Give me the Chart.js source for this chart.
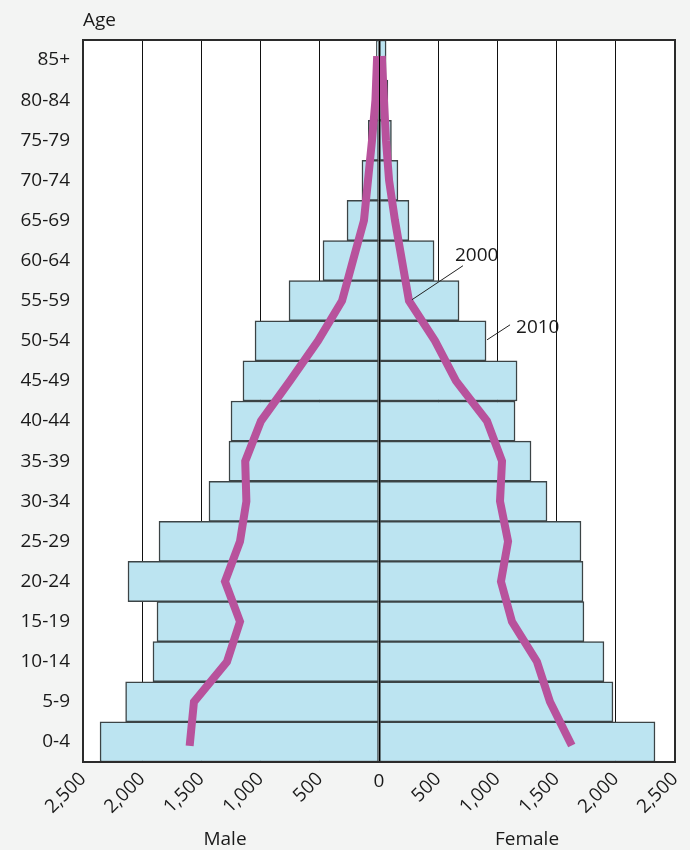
<!DOCTYPE html>
<html>
<head>
<meta charset="utf-8">
<script src="https://cdn.jsdelivr.net/npm/chart.js@4.4.1/dist/chart.umd.min.js"></script>
<style>
  html, body { margin: 0; padding: 0; background: #f3f4f3; }
  #wrap { width: 690px; height: 850px; }
</style>
</head>
<body>
<div id="wrap"><canvas id="pyramid"></canvas></div>
<script>
const ageGroups = ["0-4", "5-9", "10-14", "15-19", "20-24", "25-29", "30-34", "35-39", "40-44",
  "45-49", "50-54", "55-59", "60-64", "65-69", "70-74", "75-79", "80-84", "85+"];

// 2010 (bars)
const male2010 = [2356, 2140, 1909, 1875, 2120, 1858, 1436, 1267, 1250, 1149, 1047, 760, 473, 270, 144, 90, 50, 22];
const female2010 = [2331, 1976, 1900, 1731, 1723, 1706, 1419, 1284, 1149, 1166, 904, 676, 465, 253, 160, 105, 75, 60];

// 2000 (lines)
const male2000 = [1596, 1563, 1284, 1174, 1301, 1174, 1120, 1130, 997, 752, 515, 312, 220, 127, 93, 59, 30, 17];
const female2000 = [1613, 1444, 1334, 1123, 1030, 1090, 1022, 1039, 912, 650, 473, 253, 194, 135, 85, 59, 42, 25];

const xTicks = [-2500, -2000, -1500, -1000, -500, 0, 500, 1000, 1500, 2000, 2500];

const FONT = "'Open Sans', 'Noto Sans', sans-serif";
const TEXT = "#1a1a1a";
const BAR_FILL = "#bce4f1";
const BAR_EDGE = "#3c4446";
const LINE = "#b8529c";

const neg = (arr) => arr.map(v => -v);

const frame = {
  id: "frame",
  beforeDraw(chart) {
    const { ctx, chartArea: a } = chart;
    ctx.save();
    ctx.fillStyle = "#f3f4f3";
    ctx.fillRect(0, 0, chart.width, chart.height);
    ctx.fillStyle = "#ffffff";
    ctx.fillRect(a.left, a.top, a.right - a.left, a.bottom - a.top);
    ctx.restore();
  },
  afterDatasetsDraw(chart) {
    const { ctx, chartArea: a, scales } = chart;
    const x0 = Math.round(scales.x.getPixelForValue(0)) + 0.5;
    ctx.save();
    // centre line
    ctx.strokeStyle = "#000";
    ctx.lineWidth = 1;
    ctx.beginPath();
    ctx.moveTo(x0, a.top);
    ctx.lineTo(x0, a.bottom);
    ctx.stroke();
    // border
    ctx.strokeStyle = "#2b2b2b";
    ctx.lineWidth = 2;
    ctx.strokeRect(a.left, a.top, a.right - a.left, a.bottom - a.top);
    ctx.restore();
  },
  afterDraw(chart) {
    const { ctx, chartArea: a, scales } = chart;
    const xs = scales.x, ys = scales.y;
    ctx.save();
    ctx.fillStyle = TEXT;
    ctx.font = "19px " + FONT;
    ctx.textBaseline = "alphabetic";
    ctx.textAlign = "left";
    ctx.fillText("Age", a.left, 26);
    ctx.textAlign = "center";
    ctx.fillText("Male", xs.getPixelForValue(-1250) - 6, 845);
    ctx.fillText("Female", xs.getPixelForValue(1250), 845);
    // upright zero tick label
    ctx.fillText("0", xs.getPixelForValue(0), 787);

    // callouts
    ctx.strokeStyle = "#222";
    ctx.lineWidth = 1;
    ctx.textAlign = "left";
    const i55 = ageGroups.indexOf("55-59");
    const p1 = { x: xs.getPixelForValue(female2000[i55]), y: ys.getPixelForValue(i55) };
    ctx.beginPath();
    ctx.moveTo(p1.x + 3, p1.y - 1);
    ctx.lineTo(p1.x + 54, p1.y - 35);
    ctx.stroke();
    ctx.fillText("2000", p1.x + 46, p1.y - 40);

    const i50 = ageGroups.indexOf("50-54");
    const p2 = { x: xs.getPixelForValue(female2010[i50]), y: ys.getPixelForValue(i50) };
    ctx.beginPath();
    ctx.moveTo(p2.x + 1, p2.y - 1);
    ctx.lineTo(p2.x + 24, p2.y - 16);
    ctx.stroke();
    ctx.fillText("2010", p2.x + 30, p2.y - 8);
    ctx.restore();
  }
};

const barBase = {
  type: "bar",
  backgroundColor: BAR_FILL,
  borderColor: BAR_EDGE,
  borderWidth: 1.5,
  borderSkipped: false,
  barPercentage: 1,
  categoryPercentage: 1,
  grouped: false,
  order: 2
};

const lineBase = {
  type: "line",
  borderColor: LINE,
  borderWidth: 8,
  pointRadius: 0,
  tension: 0,
  borderJoinStyle: "miter",
  borderCapStyle: "square",
  fill: false,
  order: 1
};

new Chart(document.getElementById("pyramid"), {
  data: {
    labels: ageGroups,
    datasets: [
      { ...barBase, label: "Male 2010", data: neg(male2010) },
      { ...barBase, label: "Female 2010", data: female2010 },
      { ...lineBase, label: "Male 2000", data: neg(male2000) },
      { ...lineBase, label: "Female 2000", data: female2000 }
    ]
  },
  options: {
    indexAxis: "y",
    responsive: true,
    maintainAspectRatio: false,
    animation: false,
    layout: { padding: { top: 40, right: 15, left: 0, bottom: 0 } },
    plugins: {
      legend: { display: false },
      tooltip: { enabled: false }
    },
    scales: {
      x: {
        type: "linear",
        min: -2500,
        max: 2500,
        afterBuildTicks: (s) => { s.ticks = xTicks.map(v => ({ value: v })); },
        afterFit: (s) => { s.height = 88; s.paddingLeft = 0; s.paddingRight = 0; },
        grid: { color: "#111", lineWidth: 1, drawTicks: false },
        border: { display: false },
        ticks: {
          color: TEXT,
          font: { family: FONT, size: 19 },
          maxRotation: 45,
          minRotation: 45,
          padding: 6,
          callback: (v) => v === 0 ? "" : Math.abs(v).toLocaleString("en-US")
        }
      },
      y: {
        type: "category",
        reverse: true,
        afterFit: (s) => { s.width = 83; s.paddingTop = 0; s.paddingBottom = 0; },
        grid: { display: false, drawTicks: false },
        border: { display: false },
        ticks: {
          color: TEXT,
          font: { family: FONT, size: 19 },
          padding: 13
        }
      }
    }
  },
  plugins: [frame]
});
</script>
</body>
</html>
